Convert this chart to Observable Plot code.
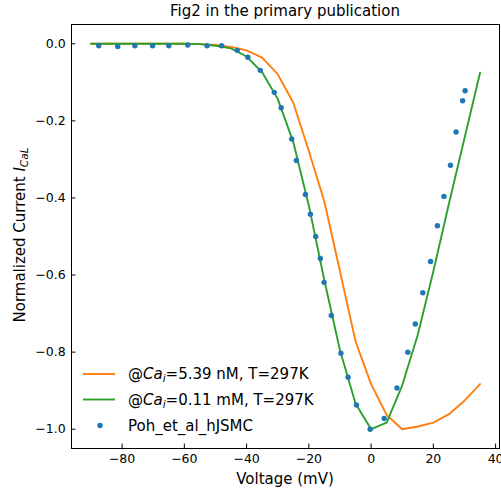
<!DOCTYPE html>
<html>
<head>
<meta charset="utf-8">
<script src="https://cdn.jsdelivr.net/npm/d3@7"></script>
<script src="https://cdn.jsdelivr.net/npm/@observablehq/plot@0.6"></script>
<style>
  html, body { margin: 0; padding: 0; background: #fff; }
  #chart svg { display: block; }
</style>
</head>
<body>
<div id="chart"></div>
<script>
// ---- Data ----
const titleText = "Fig2 in the primary publication";
const xLabelText = "Voltage (mV)";
const xTicks = [-80, -60, -40, -20, 0, 20, 40];
const yTicks = [0.0, -0.2, -0.4, -0.6, -0.8, -1.0];

// model sweep voltages (mV)
const modelVoltage = [-90, -85, -80, -75, -70, -65, -60, -55, -50, -45, -40, -35, -30, -25, -20, -15, -10, -5, 0, 5, 10, 15, 20, 25, 30, 35];
// @Ca_i = 5.39 nM, T = 297K (orange)
const currentCaLow = [0, 0, 0, 0, 0, 0, 0, -0.001, -0.003, -0.008, -0.017, -0.036, -0.079, -0.153, -0.278, -0.41, -0.59, -0.772, -0.883, -0.963, -1.0, -0.993, -0.983, -0.961, -0.926, -0.883];
// @Ca_i = 0.11 mM, T = 297K (green)
const currentCaHigh = [0, 0, 0, 0, 0, 0, 0, -0.001, -0.005, -0.012, -0.033, -0.074, -0.143, -0.255, -0.42, -0.614, -0.795, -0.933, -1.0, -0.983, -0.886, -0.755, -0.59, -0.415, -0.245, -0.075];

// experimental data: Poh_et_al_hJSMC (blue dots)
const expVoltage = [-87.5, -81.4, -75.9, -70.2, -65.0, -58.9, -52.7, -48.0, -43.0, -39.6, -35.6, -31.1, -28.9, -25.5, -24.0, -21.1, -19.5, -17.8, -16.3, -15.1, -12.8, -9.7, -7.4, -4.7, -0.3, 4.2, 8.3, 11.8, 14.2, 16.6, 19.1, 21.3, 23.4, 25.5, 27.3, 29.4, 30.2];
const expCurrent = [-0.005, -0.007, -0.005, -0.005, -0.005, -0.003, -0.005, -0.005, -0.017, -0.035, -0.069, -0.126, -0.166, -0.247, -0.303, -0.391, -0.442, -0.500, -0.557, -0.619, -0.705, -0.803, -0.865, -0.937, -1.000, -0.972, -0.893, -0.800, -0.727, -0.646, -0.565, -0.472, -0.396, -0.315, -0.229, -0.148, -0.122];

const seriesNames = ["@Ca_i=5.39 nM, T=297K", "@Ca_i=0.11 mM, T=297K", "Poh_et_al_hJSMC"];
const colors = ["#ff7f0e", "#2ca02c", "#1f77b4"];

// ---- tables built from the arrays ----
const lowTable = modelVoltage.map((v, i) => ({v, c: currentCaLow[i]}));
const highTable = modelVoltage.map((v, i) => ({v, c: currentCaHigh[i]}));
const expTable = expVoltage.map((v, i) => ({v, c: expCurrent[i]}));

const FONT = "DejaVu Sans";
const TICK_FS = 12.5, LABEL_FS = 15;
const LW = 1.9, R = 2.7;
const W = 501, H = 493;
const mL = 71, mR = 2, mT = 24, mB = 45;

const chart = Plot.plot({
  width: W,
  height: H,
  marginLeft: mL,
  marginRight: mR,
  marginTop: mT,
  marginBottom: mB,
  style: {fontFamily: FONT, fontSize: TICK_FS + "px", color: "black", background: "white", overflow: "visible"},
  x: {domain: [-96.25, 41.25]},
  y: {domain: [-1.05, 0.05]},
  marks: [
    Plot.axisX({ticks: xTicks, tickSize: -4.4, tickPadding: 10.4, tickFormat: d3.format("d"), label: null, fontSize: TICK_FS}),
    Plot.axisY({ticks: yTicks, tickSize: -4.4, tickPadding: 10.2, tickFormat: d3.format(".1f"), label: null, fontSize: TICK_FS}),
    Plot.line(lowTable, {x: "v", y: "c", stroke: colors[0], strokeWidth: LW}),
    Plot.line(highTable, {x: "v", y: "c", stroke: colors[1], strokeWidth: LW}),
    Plot.dot(expTable, {x: "v", y: "c", fill: colors[2], r: R, stroke: "none"}),
    Plot.frame({stroke: "black", strokeWidth: 1})
  ]
});
document.getElementById("chart").appendChild(chart);

// ---- text decorations (title, axis labels, legend) ----
const svg = d3.select(chart);
const cx = (mL + (W - mR)) / 2;
const cy = (mT + (H - mB)) / 2;

svg.append("text")
  .attr("x", cx).attr("y", 15.5)
  .attr("text-anchor", "middle")
  .attr("font-family", FONT).attr("font-size", LABEL_FS)
  .text(titleText);

svg.append("text")
  .attr("x", cx).attr("y", 483.5)
  .attr("text-anchor", "middle")
  .attr("font-family", FONT).attr("font-size", LABEL_FS)
  .text(xLabelText);

const yl = svg.append("text")
  .attr("transform", `translate(24.5,${cy - 1}) rotate(-90)`)
  .attr("text-anchor", "middle")
  .attr("font-family", FONT).attr("font-size", LABEL_FS);
yl.append("tspan").text("Normalized Current ");
yl.append("tspan").attr("font-style", "italic").text("I");
yl.append("tspan").attr("font-style", "italic").attr("font-size", 10.5).attr("dy", 3).text("CaL");

// legend
function mathLabel(g, name) {
  const m = name.match(/^@Ca_i(.*)$/);
  if (m) {
    g.append("tspan").text("@");
    g.append("tspan").attr("font-style", "italic").text("Ca");
    g.append("tspan").attr("font-style", "italic").attr("font-size", 10.5).attr("dy", 3).text("i");
    g.append("tspan").attr("dy", -3).text(m[1]);
  } else {
    g.append("tspan").text(name);
  }
}
const legendY = [374, 399.5, 425.5];
const leg = svg.append("g");
seriesNames.forEach((name, i) => {
  if (i < 2) {
    leg.append("line").attr("x1", 83).attr("x2", 115).attr("y1", legendY[i]).attr("y2", legendY[i])
      .attr("stroke", colors[i]).attr("stroke-width", LW);
  } else {
    leg.append("circle").attr("cx", 100).attr("cy", legendY[i]).attr("r", R).attr("fill", colors[i]);
  }
  const t = leg.append("text").attr("x", 128).attr("y", legendY[i]).attr("dy", "0.36em")
    .attr("text-anchor", "start")
    .attr("font-family", FONT).attr("font-size", LABEL_FS);
  mathLabel(t, name);
});
</script>
</body>
</html>
